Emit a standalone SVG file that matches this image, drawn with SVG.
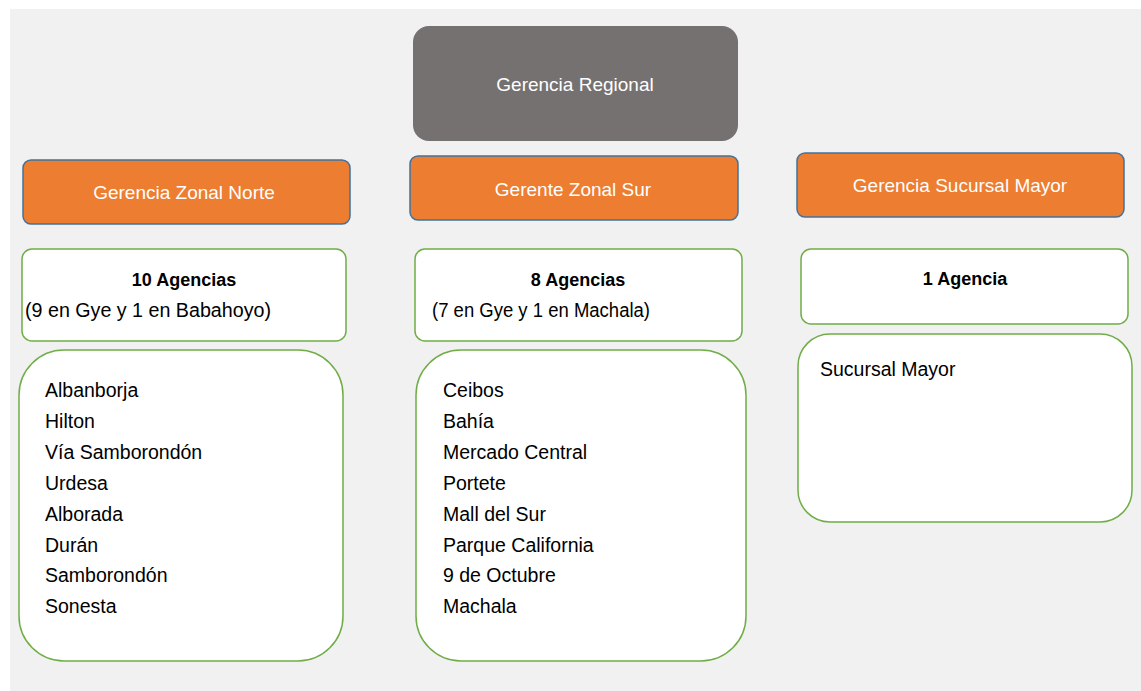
<svg xmlns="http://www.w3.org/2000/svg" width="1141" height="691" viewBox="0 0 1141 691">
<style>
.hdr{fill:#ed7d31;stroke:#41719c;stroke-width:1.5}
.box{fill:#ffffff;stroke:#70ad47;stroke-width:1.5}
.wt{font-family:"Liberation Sans",Arial,sans-serif;font-size:19px;fill:#ffffff;text-anchor:middle}
.bt{font-family:"Liberation Sans",Arial,sans-serif;font-size:18px;font-weight:bold;fill:#000000;text-anchor:middle}
.tx{font-family:"Liberation Sans",Arial,sans-serif;font-size:19.5px;fill:#000000}
</style>
<rect x="0" y="0" width="1141" height="691" fill="#ffffff"/>
<rect x="10" y="9" width="1131" height="682" fill="#f1f1f1"/>
<g id="connectors"></g>
<g id="gerencia-regional">
<rect x="413" y="26" width="325" height="115" rx="16" fill="#767171"/>
<text class="wt" x="575" y="91">Gerencia Regional</text>
</g>
<g id="zonal-norte">
<rect class="hdr" x="23" y="160" width="327" height="64" rx="8"/>
<text class="wt" x="184" y="199">Gerencia Zonal Norte</text>
</g>
<g id="zonal-sur">
<rect class="hdr" x="410" y="156" width="328" height="64" rx="8"/>
<text class="wt" x="573" y="196">Gerente Zonal Sur</text>
</g>
<g id="sucursal-mayor-hdr">
<rect class="hdr" x="797" y="153" width="327" height="64" rx="8"/>
<text class="wt" x="960" y="192">Gerencia Sucursal Mayor</text>
</g>
<g id="agencias-norte">
<rect class="box" x="22" y="249" width="324" height="92" rx="10"/>
<text class="bt" x="184" y="286">10 Agencias</text>
<text class="tx" x="25" y="317" textLength="246" lengthAdjust="spacingAndGlyphs">(9 en Gye y 1 en Babahoyo)</text>
</g>
<g id="agencias-sur">
<rect class="box" x="415" y="249" width="327" height="92" rx="10"/>
<text class="bt" x="578" y="286">8 Agencias</text>
<text class="tx" x="432" y="317" textLength="218" lengthAdjust="spacingAndGlyphs">(7 en Gye y 1 en Machala)</text>
</g>
<g id="agencia-mayor">
<rect class="box" x="801" y="249" width="327" height="75" rx="10"/>
<text class="bt" x="965" y="285">1 Agencia</text>
</g>
<g id="lista-norte">
<rect class="box" x="19" y="350" width="324" height="311" rx="45"/>
<text class="tx" x="45" y="397">Albanborja</text>
<text class="tx" x="45" y="428">Hilton</text>
<text class="tx" x="45" y="459">Vía Samborondón</text>
<text class="tx" x="45" y="490">Urdesa</text>
<text class="tx" x="45" y="521">Alborada</text>
<text class="tx" x="45" y="552">Durán</text>
<text class="tx" x="45" y="582">Samborondón</text>
<text class="tx" x="45" y="613">Sonesta</text>
</g>
<g id="lista-sur">
<rect class="box" x="416" y="350" width="330" height="311" rx="45"/>
<text class="tx" x="443" y="397">Ceibos</text>
<text class="tx" x="443" y="428">Bahía</text>
<text class="tx" x="443" y="459">Mercado Central</text>
<text class="tx" x="443" y="490">Portete</text>
<text class="tx" x="443" y="521">Mall del Sur</text>
<text class="tx" x="443" y="552">Parque California</text>
<text class="tx" x="443" y="582">9 de Octubre</text>
<text class="tx" x="443" y="613">Machala</text>
</g>
<g id="lista-mayor">
<rect class="box" x="798" y="334" width="334" height="188" rx="32"/>
<text class="tx" x="820" y="376">Sucursal Mayor</text>
</g>
</svg>
